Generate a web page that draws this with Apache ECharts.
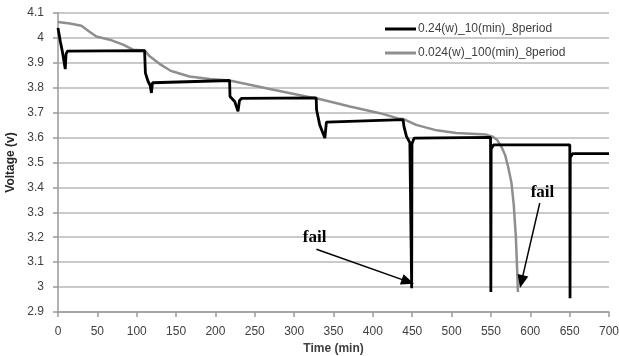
<!DOCTYPE html>
<html>
<head>
<meta charset="utf-8">
<script src="https://cdn.jsdelivr.net/npm/echarts@6/dist/echarts.min.js"></script>
<style>
html,body{margin:0;padding:0;background:#fff;}
#chart{width:619px;height:356px;}
</style>
</head>
<body>
<div id="chart"></div>
<script>
// Series names
var seriesNames = ['0.24(w)_10(min)_8period', '0.024(w)_100(min)_8period'];

// Time (min), Voltage (v) for 0.24 W / 10 min series
var blackData = [
  [0, 4.04], [3, 3.985], [5.5, 3.946], [7.5, 3.94], [9.2, 3.875], [10.2, 3.935], [12, 3.947], [110, 3.949],
  [111, 3.86], [114.5, 3.825], [117, 3.81], [118.7, 3.779], [120, 3.82], [122, 3.828], [218, 3.829],
  [218.5, 3.765], [224.5, 3.745], [228.7, 3.705], [230.5, 3.748], [233, 3.757], [328, 3.759],
  [328.5, 3.712], [332.5, 3.651], [339, 3.598], [341, 3.662], [343, 3.669], [438.4, 3.672],
  [439.5, 3.645], [442.7, 3.605], [447, 3.58], [448.9, 3.575], [449.3, 2.995], [449.7, 3.575], [452.5, 3.598], [549.5, 3.601],
  [549.9, 2.98], [550.3, 3.555], [553.5, 3.571], [650.2, 3.571], [650.5, 2.955], [650.8, 3.52], [654, 3.536], [700, 3.536]
];

// Time (min), Voltage (v) for 0.024 W / 100 min series
var grayData = [
  [0, 4.064], [15, 4.058], [29.7, 4.049], [40, 4.025], [48.8, 4.006], [65.7, 3.993], [82.6, 3.973], [95.3, 3.953],
  [110, 3.95], [116.5, 3.926], [129, 3.896], [142, 3.87], [146, 3.865], [167, 3.845], [193, 3.835], [218, 3.829],
  [243.6, 3.812], [269, 3.795], [300, 3.775], [320, 3.762], [328, 3.758], [358, 3.735], [370.7, 3.725],
  [408.8, 3.698], [432, 3.677], [438.4, 3.675], [455, 3.651], [481, 3.629], [506, 3.618], [531.6, 3.614],
  [544, 3.612], [552, 3.604], [558, 3.59], [563, 3.565], [568, 3.53], [572, 3.48], [576, 3.42], [579, 3.33],
  [581.7, 3.2], [583.3, 3.07], [584.3, 2.98]
];

// Annotations: "fail" text positions and arrows (data coordinates)
var failLabels = [[326, 3.198], [615.5, 3.380]];
var failArrows = [
  [[328.3, 3.152], [444.5, 3.022]],
  [[612, 3.337], [588.8, 3.022]]
];

var axisFont = 'Liberation Sans, Arial, sans-serif';
var chart = echarts.init(document.getElementById('chart'), null, {renderer: 'canvas'});
chart.setOption({
  animation: false,
  backgroundColor: '#ffffff',
  grid: {left: 58, right: 10, top: 13, bottom: 44, containLabel: false, outerBoundsMode: 'none'},
  legend: {
    orient: 'vertical', left: 380, top: 18, itemGap: 12, itemWidth: 31, itemHeight: 3,
    icon: 'rect',
    data: seriesNames,
    textStyle: {fontFamily: axisFont, fontSize: 12, color: '#404040', padding: [0, 0, 0, -3]}
  },
  xAxis: {
    type: 'value', min: 0, max: 700, interval: 50,
    name: 'Time (min)', nameLocation: 'middle', nameGap: 27,
    nameTextStyle: {fontFamily: axisFont, fontSize: 12, fontWeight: 'bold', color: '#404040'},
    axisLine: {show: true, lineStyle: {color: '#9a9a9a', width: 1.5}},
    axisTick: {show: true, length: 5, lineStyle: {color: '#9a9a9a', width: 1.5}},
    axisLabel: {fontFamily: axisFont, fontSize: 12, color: '#404040', margin: 14},
    splitLine: {show: false}
  },
  yAxis: {
    type: 'value', min: 2.9, max: 4.1, interval: 0.1,
    name: 'Voltage (v)', nameLocation: 'middle', nameGap: 38, nameRotate: 90,
    nameTextStyle: {fontFamily: axisFont, fontSize: 12, fontWeight: 'bold', color: '#262626'},
    axisLine: {show: true, lineStyle: {color: '#9a9a9a', width: 1.5}},
    axisTick: {show: true, length: 5, lineStyle: {color: '#9a9a9a', width: 1.5}},
    axisLabel: {fontFamily: axisFont, fontSize: 12, color: '#404040', margin: 14,
      formatter: function (v) { return String(Math.round(v * 10) / 10); }},
    splitLine: {show: true, lineStyle: {color: '#b8b8b8', width: 1.5}}
  },
  series: [
    {
      name: seriesNames[1], type: 'line', data: grayData, symbol: 'none', showSymbol: false,
      lineStyle: {color: '#8e8e8e', width: 2.5}, itemStyle: {color: '#8e8e8e'}, z: 2
    },
    {
      name: seriesNames[0], type: 'line', data: blackData, symbol: 'none', showSymbol: false,
      lineStyle: {color: '#000000', width: 2.8}, itemStyle: {color: '#000000'}, z: 3,
      markLine: {
        silent: true, symbol: ['none', 'triangle'], symbolSize: [11, 13],
        label: {show: false},
        lineStyle: {color: '#000000', width: 1.5, type: 'solid'},
        data: failArrows.map(function (a) { return [{coord: a[0]}, {coord: a[1]}]; })
      },
      markPoint: {
        silent: true, symbol: 'circle', symbolSize: 0,
        label: {show: true, position: 'inside', formatter: 'fail',
          fontFamily: 'Liberation Serif, Times New Roman, serif', fontWeight: 'bold', fontSize: 17, color: '#000000'},
        data: failLabels.map(function (p) { return {coord: p}; })
      }
    }
  ]
});
</script>
</body>
</html>
